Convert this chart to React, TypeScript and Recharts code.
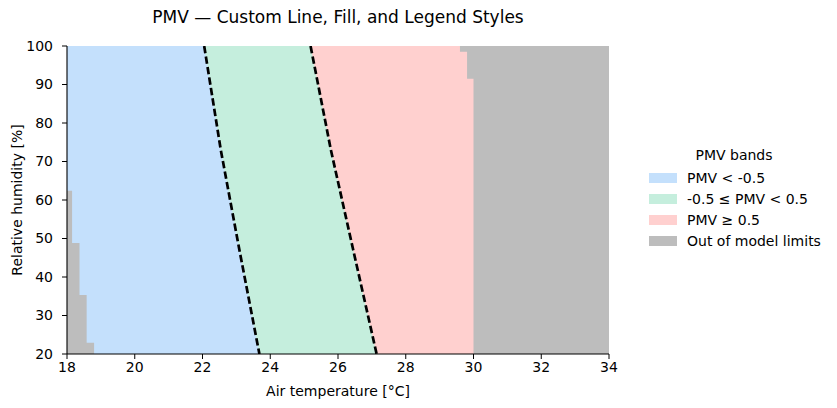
import { ComposedChart, Area, Line, XAxis, YAxis } from "recharts"

// PMV band edges (temperature at each humidity)
const coolLineRh = [100, 73, 47, 20]
const coolLineT = [22.05, 22.54, 23.09, 23.68]
const warmLineRh = [100, 73, 47, 20]
const warmLineT = [25.19, 25.79, 26.45, 27.14]

// out-of-model limits (step edges)
const hotEdgeRh = [20, 91.5, 91.5, 98.5, 98.5, 100]
const hotEdgeT = [30, 30, 29.81, 29.81, 29.6, 29.6]
const coldEdgeRh = [20, 22.9, 22.9, 35.3, 35.3, 48.8, 48.8, 62.4, 62.4]
const coldEdgeT = [18.8, 18.8, 18.58, 18.58, 18.37, 18.37, 18.15, 18.15, 18]
const fullRh = [20, 100]
const fullT = [34, 34]

const xTicks = [18, 20, 22, 24, 26, 28, 30, 32, 34]
const yTicks = [20, 30, 40, 50, 60, 70, 80, 90, 100]

const bandLabels = ["PMV < -0.5", "-0.5 \u2264 PMV < 0.5", "PMV \u2265 0.5", "Out of model limits"]
const bandColors = ["#c4e0fc", "#c5eedd", "#ffd0cf", "#bdbdbd"]

const toRows = (rh: number[], t: number[]) => rh.map((r, i) => ({ rh: r, t: t[i] }))

const coolRows = toRows(coolLineRh, coolLineT)
const warmRows = toRows(warmLineRh, warmLineT)
const hotRows = toRows(hotEdgeRh, hotEdgeT)
const coldRows = toRows(coldEdgeRh, coldEdgeT)
const fullRows = toRows(fullRh, fullT)

const font = "'DejaVu Sans', sans-serif"
const tickStyle = { fontSize: 14, fill: "#000", fontFamily: font }

function YLabel(props: any) {
  const vb = props.viewBox
  const cy = vb.y + vb.height / 2
  return (
    <text x={17} y={cy} transform={`rotate(-90 17 ${cy})`} textAnchor="middle" dominantBaseline="central"
      style={{ fontSize: 14, fontFamily: font, fill: "#000" }}>
      Relative humidity [%]
    </text>
  )
}

export default function App() {
  return (
    <div style={{ position: "absolute", left: 0, top: 0, width: 837, height: 408, background: "#fff", fontFamily: font }}>
      <div style={{ position: "absolute", top: 7, left: 67, width: 542, textAlign: "center", fontSize: 17, color: "#000" }}>
        PMV — Custom Line, Fill, and Legend Styles
      </div>

      <ComposedChart width={837} height={408} layout="vertical"
        margin={{ top: 46, right: 228, bottom: 0, left: 0 }}>
        <XAxis type="number" dataKey="t" domain={[18, 34]} ticks={xTicks} allowDataOverflow
          height={54} tick={tickStyle} tickSize={5} tickMargin={3}
          axisLine={{ stroke: "#000", strokeWidth: 1.1 }} tickLine={{ stroke: "#000" }}
          label={{ value: "Air temperature [\u00b0C]", position: "insideBottom", offset: 12, style: { fontSize: 14, fill: "#000", fontFamily: font } }} />
        <YAxis type="number" dataKey="rh" domain={[20, 100]} ticks={yTicks} allowDataOverflow reversed
          width={67} tick={tickStyle} tickSize={5} tickMargin={9}
          axisLine={{ stroke: "#000", strokeWidth: 1.1 }} tickLine={{ stroke: "#000" }}
          label={<YLabel />} />

        {/* painted back to front: each band fills from 18 °C up to its edge */}
        <Area data={fullRows} dataKey="t" type="linear" fill={bandColors[3]} fillOpacity={1} stroke="none" isAnimationActive={false} />
        <Area data={hotRows} dataKey="t" type="linear" fill={bandColors[2]} fillOpacity={1} stroke="none" isAnimationActive={false} />
        <Area data={warmRows} dataKey="t" type="linear" fill={bandColors[1]} fillOpacity={1} stroke="none" isAnimationActive={false} />
        <Area data={coolRows} dataKey="t" type="linear" fill={bandColors[0]} fillOpacity={1} stroke="none" isAnimationActive={false} />
        <Area data={coldRows} dataKey="t" type="linear" fill={bandColors[3]} fillOpacity={1} stroke="none" isAnimationActive={false} />

        <Line data={coolRows} dataKey="t" type="linear" stroke="#000" strokeWidth={2.7} strokeDasharray="7.4 3.2" dot={false} activeDot={false} isAnimationActive={false} />
        <Line data={warmRows} dataKey="t" type="linear" stroke="#000" strokeWidth={2.7} strokeDasharray="7.4 3.2" dot={false} activeDot={false} isAnimationActive={false} />
      </ComposedChart>

      {/* legend */}
      <div style={{ position: "absolute", left: 649, top: 147, fontSize: 14, color: "#000" }}>
        <div style={{ textAlign: "center", width: 170, marginBottom: 4 }}>PMV bands</div>
        {bandLabels.map((label, i) => (
          <div key={label} style={{ display: "flex", alignItems: "center", height: 21 }}>
            <div style={{ width: 28, height: 10, background: bandColors[i], marginRight: 10 }} />
            <span>{label}</span>
          </div>
        ))}
      </div>
    </div>
  )
}
